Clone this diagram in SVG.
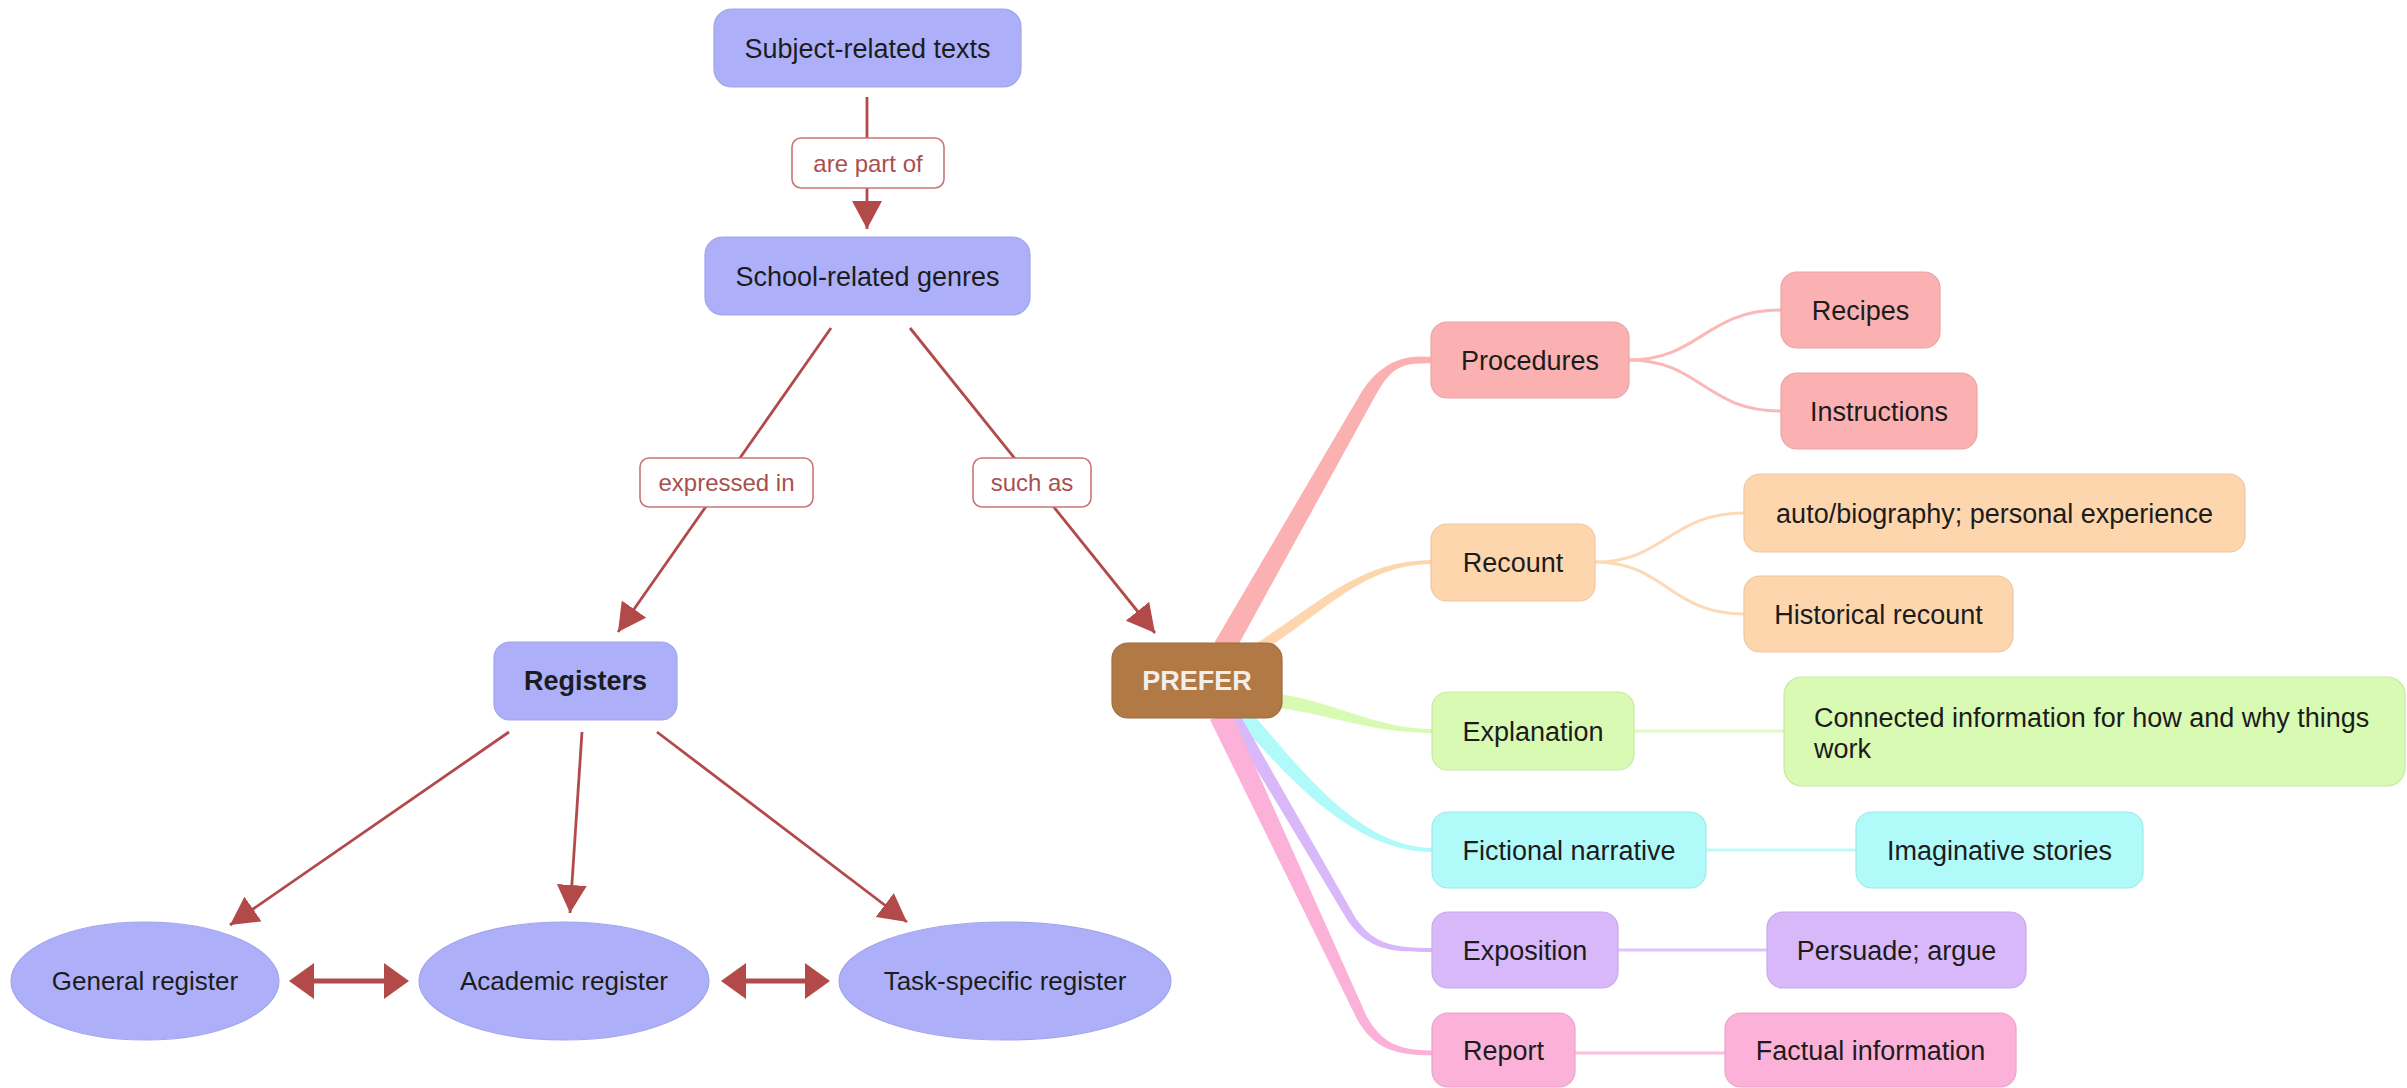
<svg xmlns="http://www.w3.org/2000/svg" width="2407" height="1088" viewBox="0 0 2407 1088">
<style>
text{font-family:"Liberation Sans",Arial,Helvetica,sans-serif;fill:#1c1c1c}
.c{font-size:27px;text-anchor:middle}
.e{font-size:26px;text-anchor:middle}
.b{font-weight:bold}
.blue{fill:#adb0f9;stroke:#a1a4ec;stroke-width:1.2}
.lbl rect{fill:#fff;stroke:#c97575;stroke-width:1.6}
.lbl text{font-size:24px;fill:#a9504f;text-anchor:middle}
.arr{stroke:#b34a4a;stroke-width:2.8;fill:none;marker-end:url(#ah)}
.dbl{stroke:#b34a4a;stroke-width:5;fill:none;marker-start:url(#dh);marker-end:url(#dh)}
.red{fill:#fbb1b1;stroke:#eda3a3;stroke-width:1.2}
.ora{fill:#fdd6ae;stroke:#efc6a0;stroke-width:1.2}
.grn{fill:#d9fab2;stroke:#c8e9a2;stroke-width:1.2}
.cyn{fill:#b1fafa;stroke:#a0e8e8;stroke-width:1.2}
.pur{fill:#d9b8fa;stroke:#c8a8ea;stroke-width:1.2}
.pnk{fill:#fcb1d8;stroke:#eca2c8;stroke-width:1.2}
.thin{fill:none;stroke-width:3}
</style>
<defs>
<marker id="ah" markerUnits="userSpaceOnUse" markerWidth="28" markerHeight="30" viewBox="0 0 28 30" refX="28" refY="15" orient="auto"><path d="M0,0 L28,15 L0,30 Z" fill="#b34a4a"/></marker>
<marker id="dh" markerUnits="userSpaceOnUse" markerWidth="25" markerHeight="36" viewBox="0 0 25 36" refX="21" refY="18" orient="auto-start-reverse"><path d="M0,0 L25,18 L0,36 Z" fill="#b34a4a"/></marker>
</defs>

<g id="connectors">
  <path class="arr" d="M867,97 L867,229"/>
  <path class="arr" d="M831,328 L618,632"/>
  <path class="arr" d="M910,328 L1155,633"/>
  <path class="arr" d="M509,732 L230,925"/>
  <path class="arr" d="M582,732 L570,913"/>
  <path class="arr" d="M657,732 L907,922"/>
  <path class="dbl" d="M293,981 L405,981"/>
  <path class="dbl" d="M725,981 L826,981"/>

  <path fill="#fbb1b1" d="M1214.4,642.6 L1358.9,396.5 C1372,373.5 1392,356.5 1420,356.5 L1433,357 L1433,363 L1420,363.5 C1392,363.5 1384,380.5 1371.1,403.5 L1233.6,653.4 Z"/>
  <path fill="#fdd6ae" d="M1255.4,643.7 C1317,605.5 1358,560 1433,560 L1433,564 C1362,564 1323,614.5 1260.6,652.3 Z"/>
  <path fill="#d9fab2" d="M1270.7,693 C1332,699 1372,729 1433,729 L1433,733 C1368,733 1328,713 1269.3,707 Z"/>
  <path fill="#b1fafa" d="M1245.8,706.5 C1291,755 1354,848 1433,848 L1433,852 C1346,852 1279,765 1234.2,717.5 Z"/>
  <path fill="#d9b8fa" d="M1238,711.5 L1355.5,918 C1374,944 1392,948 1433,948 L1433,952 C1388,952 1370,950 1348.5,922 L1226,718.5 Z"/>
  <path fill="#fcb1d8" d="M1230,710.3 L1366.5,1015.9 C1381,1042 1397,1050.5 1433,1050.5 L1433,1055.5 C1393,1055.5 1374,1048 1357.5,1020.1 L1210,719.7 Z"/>

  <path class="thin" stroke="#fbb8b8" d="M1629,360 C1700,360 1705,310 1781,310"/>
  <path class="thin" stroke="#fbb8b8" d="M1629,360 C1700,360 1705,411 1781,411"/>
  <path class="thin" stroke="#fddab6" d="M1595,562 C1665,562 1670,513 1744,513"/>
  <path class="thin" stroke="#fddab6" d="M1595,562 C1665,562 1670,614 1744,614"/>
  <path class="thin" stroke="#e0fac6" stroke-width="4" d="M1634,731 L1784,731"/>
  <path class="thin" stroke="#bcfafa" stroke-width="4" d="M1706,850 L1856,850"/>
  <path class="thin" stroke="#dec4fa" d="M1618,950 L1767,950"/>
  <path class="thin" stroke="#fcbedd" d="M1575,1053 L1725,1053"/>
</g>

<g id="connector-labels" class="lbl">
  <g id="lbl-are-part-of"><rect x="792" y="138" width="152" height="50" rx="9"/><text x="868" y="172">are part of</text></g>
  <g id="lbl-expressed-in"><rect x="640" y="458" width="173" height="49" rx="9"/><text x="726.5" y="491">expressed in</text></g>
  <g id="lbl-such-as"><rect x="973" y="458" width="118" height="49" rx="9"/><text x="1032" y="491">such as</text></g>
</g>

<g id="subject-related-texts"><rect class="blue" x="714" y="9" width="307" height="78" rx="18"/><text class="c" x="867.5" y="58">Subject-related texts</text></g>
<g id="school-related-genres"><rect class="blue" x="705" y="237" width="325" height="78" rx="18"/><text class="c" x="867.5" y="286">School-related genres</text></g>
<g id="registers"><rect class="blue" x="494" y="642" width="183" height="78" rx="16"/><text class="c b" x="585.5" y="690">Registers</text></g>
<g id="general-register"><ellipse class="blue" cx="145" cy="981" rx="134" ry="59"/><text class="e" x="145" y="990">General register</text></g>
<g id="academic-register"><ellipse class="blue" cx="564" cy="981" rx="145" ry="59"/><text class="e" x="564" y="990">Academic register</text></g>
<g id="task-specific-register"><ellipse class="blue" cx="1005" cy="981" rx="166" ry="59"/><text class="e" x="1005" y="990">Task-specific register</text></g>

<g id="prefer"><rect x="1112" y="643" width="170" height="75" rx="16" fill="#b07945" stroke="#a06c3c" stroke-width="1.2"/><text class="c b" x="1197" y="690" style="fill:#f4eee8">PREFER</text></g>

<g id="procedures"><rect class="red" x="1431" y="322" width="198" height="76" rx="16"/><text class="c" x="1530" y="369.5">Procedures</text></g>
<g id="recipes"><rect class="red" x="1781" y="272" width="159" height="76" rx="16"/><text class="c" x="1860.5" y="319.5">Recipes</text></g>
<g id="instructions"><rect class="red" x="1781" y="373" width="196" height="76" rx="16"/><text class="c" x="1879" y="420.5">Instructions</text></g>

<g id="recount"><rect class="ora" x="1431" y="524" width="164" height="77" rx="16"/><text class="c" x="1513" y="572">Recount</text></g>
<g id="auto-biography"><rect class="ora" x="1744" y="474" width="501" height="78" rx="16"/><text class="c" x="1994.5" y="522.5">auto/biography; personal experience</text></g>
<g id="historical-recount"><rect class="ora" x="1744" y="576" width="269" height="76" rx="16"/><text class="c" x="1878.5" y="623.5">Historical recount</text></g>

<g id="explanation"><rect class="grn" x="1432" y="692" width="202" height="78" rx="16"/><text class="c" x="1533" y="740.5">Explanation</text></g>
<g id="connected-information"><rect class="grn" x="1784" y="677" width="621" height="109" rx="18"/><text x="1814" y="727" style="font-size:27px">Connected information for how and why things</text><text x="1814" y="758" style="font-size:27px">work</text></g>

<g id="fictional-narrative"><rect class="cyn" x="1432" y="812" width="274" height="76" rx="16"/><text class="c" x="1569" y="859.5">Fictional narrative</text></g>
<g id="imaginative-stories"><rect class="cyn" x="1856" y="812" width="287" height="76" rx="16"/><text class="c" x="1999.5" y="859.5">Imaginative stories</text></g>

<g id="exposition"><rect class="pur" x="1432" y="912" width="186" height="76" rx="16"/><text class="c" x="1525" y="959.5">Exposition</text></g>
<g id="persuade-argue"><rect class="pur" x="1767" y="912" width="259" height="76" rx="16"/><text class="c" x="1896.5" y="959.5">Persuade; argue</text></g>

<g id="report"><rect class="pnk" x="1432" y="1013" width="143" height="74" rx="16"/><text class="c" x="1503.5" y="1060">Report</text></g>
<g id="factual-information"><rect class="pnk" x="1725" y="1013" width="291" height="74" rx="16"/><text class="c" x="1870.5" y="1060">Factual information</text></g>
</svg>
